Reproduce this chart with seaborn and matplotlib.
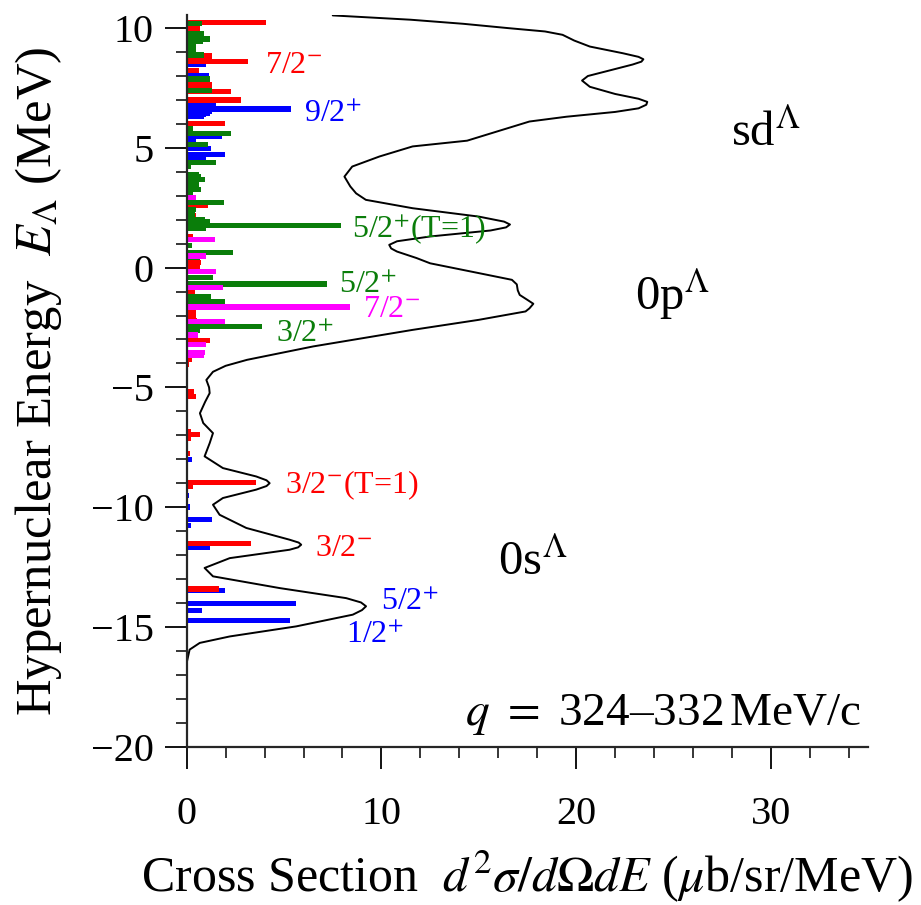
import matplotlib
matplotlib.use("Agg")
import matplotlib.pyplot as plt
import seaborn as sns

# ---- stick spectra: hypernuclear energy (MeV) and cross section (mub/sr/MeV) ----
blue_E = [9.37, 8.47, 8.01, 7.77, 6.84, 6.73, 6.62, 6.52, 6.45, 6.38, 6.30,
          5.47, 5.34, 4.96, 4.71, 4.61, -8.02, -9.53, -10.0, -10.53, -10.78,
          -11.67, -13.48, -14.01, -14.33, -14.73]
blue_v = [0.41, 1.01, 1.15, 0.97, 1.52, 1.45, 5.37, 1.30, 1.20, 1.00, 0.90,
          1.81, 0.50, 1.26, 1.98, 1.00, 0.29, 0.12, 0.15, 1.32, 0.24,
          1.21, 1.98, 5.62, 0.80, 5.28]

red_E = [10.23, 10.00, 8.84, 8.60, 8.22, 7.63, 7.35, 7.00, 6.03, 2.58, 2.16,
         1.30, 0.21, -0.02, -1.04, -1.83, -2.04, -2.21, -3.05, -3.82, -4.06,
         -4.48, -5.17, -5.38, -6.84, -6.98, -7.12, -7.75, -8.97, -9.14,
         -11.53, -13.42]
red_v = [4.05, 0.70, 1.30, 3.13, 0.63, 1.32, 2.29, 2.77, 1.95, 1.09, 0.46,
         0.30, 0.75, 0.70, 0.41, 0.46, 0.46, 0.53, 1.18, 0.29, 0.10,
         0.05, 0.36, 0.46, 0.24, 0.70, 0.24, 0.19, 3.54, 0.32,
         3.30, 1.66]

green_E = [10.18, 9.79, 9.54, 9.44, 9.23, 9.02, 8.88, 7.87, 7.39, 5.82, 5.59,
           5.13, 4.40, 4.22, 3.87, 3.81, 3.67, 3.46, 3.25, 3.11, 2.73, 2.44,
           2.21, 2.02, 1.90, 1.76, 1.62, 0.91, 0.63, 0.42, -0.40, -0.68,
           -1.21, -1.42, -1.50, -2.46, -2.64]
green_v = [0.80, 0.87, 1.21, 0.84, 0.46, 0.50, 0.87, 1.21, 1.32, 0.32, 2.26,
           1.09, 1.52, 0.24, 0.63, 0.75, 0.92, 0.63, 0.75, 0.32, 1.91, 0.50,
           0.42, 0.92, 1.18, 7.90, 1.01, 0.29, 2.38, 0.67, 1.35, 7.21,
           1.26, 1.95, 0.30, 3.86, 0.67]

magenta_E = [2.93, 1.16, 0.49, -0.16, -0.82, -1.65, -2.25, -2.81, -3.22,
             -3.54, -3.68]
magenta_v = [0.46, 1.44, 0.97, 1.52, 1.86, 8.39, 1.95, 0.58, 0.97,
             0.92, 0.90]

# ---- folded spectrum (black curve) ----
curve_E = [10.53, 10.35, 10.18, 10.0, 9.86, 9.72, 9.48, 9.23, 8.95, 8.80,
           8.70, 8.60, 8.48, 8.25, 8.0, 7.81, 7.55, 7.25, 7.05, 6.92, 6.80,
           6.65, 6.50, 6.30, 6.10, 5.90, 5.60, 5.30, 5.06, 4.64, 4.22, 3.80,
           3.39, 3.10, 2.83, 2.48, 2.13, 1.92, 1.80, 1.68, 1.55, 1.30, 1.10,
           0.95, 0.80, 0.67, 0.40, 0.18, -0.23, -0.51, -0.70, -0.95, -1.14,
           -1.35, -1.51, -1.70, -1.83, -2.18, -2.60, -3.29, -3.85, -4.10,
           -4.35, -4.69, -5.00, -5.24, -5.60, -6.08, -6.49, -6.91, -7.33,
           -7.88, -8.37, -8.72, -8.88, -9.0, -9.12, -9.27, -9.62, -9.90,
           -10.32, -10.87, -11.36, -11.48, -11.57, -11.68, -11.78, -12.13,
           -12.54, -12.89, -13.38, -13.80, -13.98, -14.14, -14.30, -14.49,
           -14.98, -15.40, -15.67, -15.95, -16.50]
curve_v = [7.5, 11.5, 14.2, 16.5, 18.4, 19.3, 19.9, 20.7, 22.4, 23.2,
           23.45, 23.35, 22.9, 21.8, 20.6, 20.3, 20.7, 22.0, 23.2, 23.65, 23.6,
           23.2, 22.0, 19.5, 17.6, 16.8, 15.6, 14.4, 11.6, 9.9, 8.5, 8.1,
           8.4, 8.7, 9.2, 11.6, 15.0, 16.3, 16.6, 16.4, 15.6, 12.5, 10.8,
           10.4, 10.5, 10.8, 11.8, 12.5, 15.0, 16.7, 16.95, 17.0, 17.1,
           17.5, 17.8, 17.6, 17.4, 15.0, 11.6, 6.5, 3.1, 2.0,
           1.35, 1.01, 1.15, 1.18, 0.95, 0.68, 0.85, 1.35, 1.18,
           0.92, 1.86, 3.57, 4.10, 4.26, 4.10, 3.57, 1.86, 1.35,
           1.69, 3.06, 5.28, 5.75, 5.88, 5.72, 5.28, 2.21,
           0.92, 1.35, 4.77, 8.19, 8.95, 9.21, 9.0, 8.53,
           5.62, 2.21, 0.67, 0.15, 0.0]

# ---- state labels: text, x, E, colour ----
state_labels = [
    (r"7/2$^{-}$", 4.02, 8.13, "red"),
    (r"9/2$^{+}$", 6.02, 6.09, "blue"),
    (r"5/2$^{+}$(T=1)", 8.48, 1.22, "green"),
    (r"5/2$^{+}$", 7.82, -1.05, "green"),
    (r"7/2$^{-}$", 9.05, -2.05, "magenta"),
    (r"3/2$^{+}$", 4.58, -3.09, "green"),
    (r"3/2$^{-}$(T=1)", 5.04, -9.40, "red"),
    (r"3/2$^{-}$", 6.58, -12.03, "red"),
    (r"5/2$^{+}$", 10.0, -14.29, "blue"),
    (r"1/2$^{+}$", 8.17, -15.67, "blue"),
]
shell_labels = [
    (r"sd$^{\Lambda}$", 27.96, 5.08),
    (r"0p$^{\Lambda}$", 23.0, -1.76),
    (r"0s$^{\Lambda}$", 15.97, -12.83),
]

colors = {"red": "#ff0000", "blue": "#0000ff",
          "green": "#0a7d0a", "magenta": "#ff00ff"}

sns.set_style("ticks")
plt.rcParams["font.family"] = ["Liberation Serif", "DejaVu Serif"]
plt.rcParams["mathtext.fontset"] = "stix"
plt.rcParams["text.color"] = "black"
plt.rcParams["axes.labelcolor"] = "black"

fig = plt.figure(figsize=(9.21, 9.05), dpi=100)
ax = fig.add_axes([0.2027, 0.175, 0.7401, 0.8085])

bar_h = 0.22
ax.barh(blue_E, blue_v, height=bar_h, color=colors["blue"], lw=0)
ax.barh(red_E, red_v, height=bar_h, color=colors["red"], lw=0)
ax.barh(green_E, green_v, height=bar_h, color=colors["green"], lw=0)
ax.barh(magenta_E, magenta_v, height=bar_h, color=colors["magenta"], lw=0)

sns.lineplot(x=curve_v, y=curve_E, sort=False, estimator=None,
             color="black", lw=1.4, ax=ax)

for txt, x, e, c in state_labels:
    ax.text(x, e, txt, color=colors[c], fontsize=23, va="baseline", ha="left")
for txt, x, e in shell_labels:
    ax.text(x, e, txt, color="black", fontsize=35, va="baseline", ha="left")

ax.text(34.65, -19.1, r"$q$ $=$ 324–332$\,$MeV/c", fontsize=34,
        ha="right", va="baseline")

ax.set_xlim(0, 35)
ax.set_ylim(-20, 10.55)
ax.set_xticks([0, 10, 20, 30])
ax.set_xticks(range(0, 35, 2), minor=True)
ax.set_yticks([-20, -15, -10, -5, 0, 5, 10])
ax.set_yticks(range(-20, 11), minor=True)
ax.set_yticklabels(["\u221220", "\u221215", "\u221210", "\u22125", "0", "5", "10"])

for side in ["top", "right"]:
    ax.spines[side].set_visible(False)
for side in ["left", "bottom"]:
    ax.spines[side].set_linewidth(1.6)

ax.tick_params(axis="both", which="major", length=15.8, width=1.3,
               direction="out", labelsize=29, colors="black")
ax.tick_params(axis="both", which="minor", length=7.9, width=1.3,
               direction="out")
ax.tick_params(axis="x", which="major", pad=20)
ax.tick_params(axis="y", which="major", pad=8)

ax.set_xlabel(r"Cross Section  $d^2\sigma/d\Omega dE$ ($\mu$b/sr/MeV)",
              fontsize=36, labelpad=11)
ax.set_ylabel(r"Hypernuclear Energy  $E_{\Lambda}$ (MeV)", fontsize=36.5,
              labelpad=19)

fig.savefig("out.png", dpi=100, facecolor="white")
